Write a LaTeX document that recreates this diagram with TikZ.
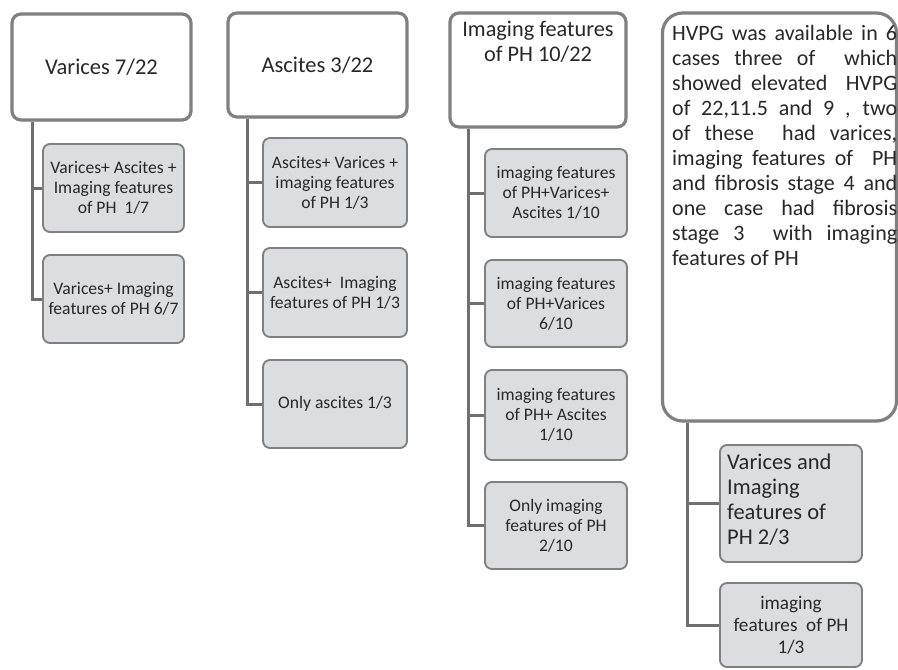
\documentclass[tikz,border=0pt]{standalone}
\usepackage{fontspec}
\setmainfont{Carlito}
\usetikzlibrary{shadows}
\definecolor{bordergray}{RGB}{128,128,128}
\definecolor{fillgray}{RGB}{220,221,222}
\definecolor{linegray}{RGB}{112,112,112}
\definecolor{txt}{RGB}{40,40,40}
\tikzset{
  topbox/.style={draw=bordergray, line width=3.2pt, rounded corners=9pt, fill=white,
    inner sep=0pt, align=center, text=txt, font=\fontsize{22.5}{25}\selectfont,
    drop shadow={shadow xshift=0.8pt, shadow yshift=-1.5pt, opacity=0.25}},
  childbox/.style={draw=bordergray, line width=1.9pt, rounded corners=7pt, fill=fillgray,
    inner sep=0pt, align=center, text=txt, font=\fontsize{17.6}{20}\selectfont},
  conn/.style={draw=linegray, line width=3pt},
}
\begin{document}
\begin{tikzpicture}[x=1pt,y=-1pt]
\useasboundingbox (0,0) rectangle (898,670);

% column 1
\node[topbox, minimum width=179pt, minimum height=106pt] (v0) at (101.5,67)
  {Varices 7/22};
\node[childbox, minimum width=141pt, minimum height=88pt] (c11) at (113.5,188)
  {Varices+ Ascites +\\Imaging features\\of PH\ \ 1/7};
\node[childbox, minimum width=141pt, minimum height=88pt] (c12) at (113.5,299)
  {Varices+ Imaging\\features of PH 6/7};
\coordinate (t1) at (32,0);
\draw[conn] (v0.south -| t1) |- (c11.west);
\draw[conn] (v0.south -| t1) |- (c12.west);

% column 2
\node[topbox, minimum width=179pt, minimum height=104pt] (a0) at (317.5,65)
  {Ascites 3/22};
\node[childbox, minimum width=144pt, minimum height=89pt] (c21) at (335,182.5)
  {Ascites+ Varices +\\imaging features\\of PH 1/3};
\node[childbox, minimum width=144pt, minimum height=89pt] (c22) at (335,292.5)
  {Ascites+\ \ Imaging\\features of PH 1/3};
\node[childbox, minimum width=144pt, minimum height=88pt] (c23) at (335,404)
  {Only ascites 1/3};
\coordinate (t2) at (247,0);
\draw[conn] (a0.south -| t2) |- (c21.west);
\draw[conn] (a0.south -| t2) |- (c22.west);
\draw[conn] (a0.south -| t2) |- (c23.west);

% column 3
\node[topbox, minimum width=176pt, minimum height=114pt] (i0) at (538,70) {};
\node[text=txt, align=center, anchor=north, inner sep=0pt, font=\fontsize{22.3}{25}\selectfont] (i0t) at (538,21)
  {Imaging features\\of PH 10/22};
\node[childbox, minimum width=142pt, minimum height=88pt] (c31) at (556,193)
  {imaging features\\of PH+Varices+\\Ascites 1/10};
\node[childbox, minimum width=142pt, minimum height=87pt] (c32) at (556,303.5)
  {imaging features\\of PH+Varices\\6/10};
\node[childbox, minimum width=142pt, minimum height=90pt] (c33) at (556,415)
  {imaging features\\of PH+ Ascites\\1/10};
\node[childbox, minimum width=142pt, minimum height=87pt] (c34) at (556,525.5)
  {Only imaging\\features of PH\\2/10};
\coordinate (t3) at (468,0);
\draw[conn] (i0.south -| t3) |- (c31.west);
\draw[conn] (i0.south -| t3) |- (c32.west);
\draw[conn] (i0.south -| t3) |- (c33.west);
\draw[conn] (i0.south -| t3) |- (c34.west);

% column 4
\node[topbox, rounded corners=20pt, minimum width=234pt, minimum height=408pt] (h0) at (779.5,217) {};
\node[text=txt, anchor=north west, inner sep=0pt, text width=225pt, align=justify,
  font=\fontsize{22}{25}\selectfont] (h0t) at (672,25)
  {HVPG was available in 6\linebreak
   cases three of\ \ which\linebreak
   showed elevated\ \ HVPG\linebreak
   of 22,11.5 and 9 , two\linebreak
   of these\ \ had varices,\linebreak
   imaging features of\ \ PH\linebreak
   and fibrosis stage 4 and\linebreak
   one case had fibrosis\linebreak
   stage 3\ \ with imaging\linebreak
   features of PH\par};
\node[childbox, minimum width=142pt, minimum height=117pt] (c41) at (791,503.5) {};
\node[text=txt, anchor=north west, align=left, inner sep=0pt,
  font=\fontsize{22.5}{25}\selectfont] (c41t) at (727,454)
  {Varices and\\Imaging\\features of\\PH 2/3};
\node[childbox, minimum width=142pt, minimum height=84pt, font=\fontsize{19.2}{22}\selectfont] (c42) at (791,625)
  {imaging\\features\ \ of PH\\1/3};
\coordinate (t4) at (687,0);
\draw[conn] (h0.south -| t4) |- (c41.west);
\draw[conn] (h0.south -| t4) |- (c42.west);
\end{tikzpicture}
\end{document}
